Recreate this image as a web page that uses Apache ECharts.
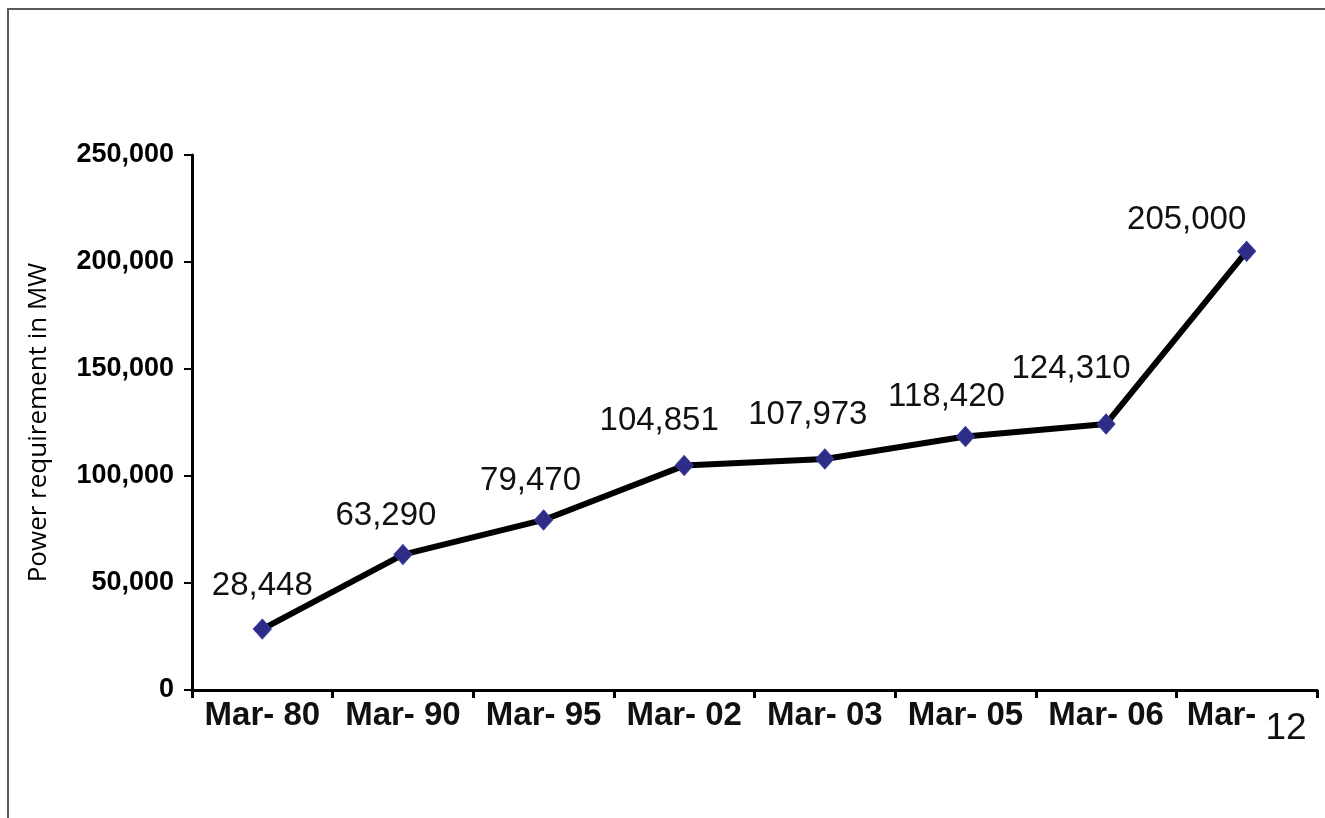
<!DOCTYPE html>
<html>
<head>
<meta charset="utf-8">
<title>Power requirement in MW</title>
<script src="https://cdn.jsdelivr.net/npm/echarts@6/dist/echarts.min.js"></script>
<style>
  html, body { margin: 0; padding: 0; background: #ffffff; }
  #chart { width: 1325px; height: 818px; }
</style>
</head>
<body>
<div id="chart"></div>
<script>
// Categories (financial year ends) and power requirement values, in MW
const categories = ['Mar- 80', 'Mar- 90', 'Mar- 95', 'Mar- 02', 'Mar- 03', 'Mar- 05', 'Mar- 06', 'Mar- 12'];
const requirementMW = [28448, 63290, 79470, 104851, 107973, 118420, 124310, 205000];
const yAxisMin = 0;
const yAxisMax = 250000;
const yAxisStep = 50000;
const yAxisTitle = 'Power requirement in MW';

// Where each value label sits relative to its point (centre offset, px)
const labelOffsets = [[0, -43], [-17, -39], [-13, -39], [-25, -45], [-17, -44], [-19, -40], [-35, -55], [-60, -31]];

const fmt = v => v.toLocaleString('en-US');

const chart = echarts.init(document.getElementById('chart'), null, { renderer: 'canvas' });

chart.setOption({
  backgroundColor: '#ffffff',
  animation: false,
  grid: { left: 192, right: 8, top: 155, bottom: 128, containLabel: false },
  xAxis: {
    type: 'category',
    data: categories,
    boundaryGap: true,
    axisLine: { show: true, lineStyle: { color: '#000', width: 3 } },
    axisTick: { show: true, alignWithLabel: false, length: 8, lineStyle: { color: '#000', width: 3 } },
    axisLabel: {
      margin: 9,
      color: '#111',
      fontFamily: 'Liberation Sans, Arial, sans-serif',
      fontWeight: 'bold',
      fontSize: 33,
      interval: 0,
      formatter: (value, index) => {
        // the final year is set in a larger, lighter face, dropped slightly
        if (index === categories.length - 1) {
          const parts = value.split(' ');
          return '{a|' + parts[0] + ' }{b|' + parts[1] + '}';
        }
        return value;
      },
      rich: {
        a: { fontFamily: 'Liberation Sans, Arial, sans-serif', fontWeight: 'bold', fontSize: 33, color: '#111', verticalAlign: 'top' },
        b: { fontFamily: 'Liberation Sans, Arial, sans-serif', fontWeight: 'normal', fontSize: 37, color: '#111', verticalAlign: 'top', padding: [11, 0, 0, 0] }
      }
    },
    splitLine: { show: false }
  },
  yAxis: {
    type: 'value',
    min: yAxisMin,
    max: yAxisMax,
    interval: yAxisStep,
    name: yAxisTitle,
    nameLocation: 'middle',
    nameGap: 140,
    nameRotate: 90,
    nameTextStyle: { fontFamily: 'Open Sans, Arial, sans-serif', fontSize: 26, color: '#000' },
    axisLine: { show: true, lineStyle: { color: '#000', width: 3 } },
    axisTick: { show: true, length: 8, lineStyle: { color: '#000', width: 2 } },
    axisLabel: {
      margin: 18,
      color: '#000',
      fontFamily: 'Liberation Sans, Arial, sans-serif',
      fontWeight: 'bold',
      fontSize: 27,
      formatter: v => fmt(v)
    },
    splitLine: { show: false }
  },
  series: [{
    type: 'line',
    data: requirementMW.map((v, i) => ({
      value: v,
      label: { offset: labelOffsets[i] }
    })),
    lineStyle: { color: '#000', width: 6 },
    symbol: 'diamond',
    symbolSize: [18, 20],
    itemStyle: { color: '#2d2d88', borderColor: '#3a3a99', borderWidth: 1 },
    z: 3,
    label: {
      show: true,
      position: 'inside',
      align: 'center',
      verticalAlign: 'middle',
      color: '#111',
      fontFamily: 'Liberation Sans, Arial, sans-serif',
      fontSize: 33,
      formatter: p => fmt(p.value)
    },
    emphasis: { disabled: true }
  }],
  graphic: [
    // frame around the figure
    { type: 'line', shape: { x1: 7, y1: 9, x2: 1325, y2: 9 }, style: { stroke: '#5a5a5a', lineWidth: 2 }, silent: true },
    { type: 'line', shape: { x1: 8, y1: 8, x2: 8, y2: 818 }, style: { stroke: '#5a5a5a', lineWidth: 2 }, silent: true }
  ]
});
</script>
</body>
</html>
